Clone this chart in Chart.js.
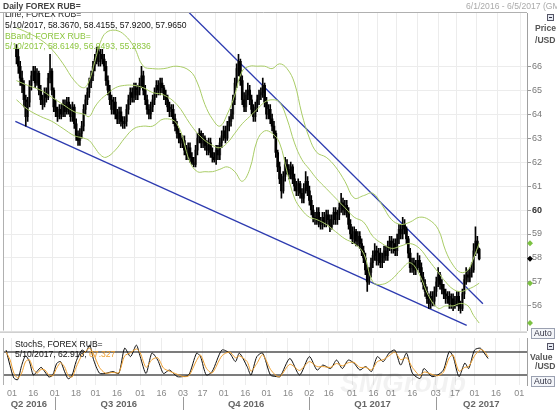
<!DOCTYPE html>
<html>
<head>
<meta charset="utf-8">
<script src="https://cdn.jsdelivr.net/npm/chart.js@4.4.0/dist/chart.umd.min.js"></script>
<style>
  body { margin: 0; width: 557px; height: 410px; overflow: hidden; position: relative; background: #fff;
         font-family: "Liberation Sans", Arial, sans-serif; }
  canvas { position: absolute; left: 0; }
  #main { top: 0; }
  #stoch { top: 336px; }
  .t { position: absolute; white-space: nowrap; font-size: 8.6px; line-height: 10px; }
  .b { font-weight: bold; }
  .auto { position: absolute; font-size: 8.6px; line-height: 9px; color: #334; border: 1px solid #9aa0b0;
          background: #f3f5f9; padding: 0 2px; }
  .btn { position: absolute; width: 5px; height: 5px; border: 1px solid #556; background: #e8ecf4; }
  .btn:after { content: ""; position: absolute; left: 1px; top: 2px; width: 3px; height: 1px; background: #334; }
</style>
</head>
<body>
<canvas id="main" width="557" height="337"></canvas>
<canvas id="stoch" width="557" height="74"></canvas>

<div class="t b" style="left:3px;top:1px;font-size:8.5px;color:#444">Daily FOREX RUB=</div>
<div class="t" style="left:466px;top:1px;color:#aaa">6/1/2016 - 6/5/2017 (GMT)</div>

<div style="position:absolute;left:5px;top:13px;height:6px;width:120px;overflow:hidden">
  <div class="t" style="left:0;top:-4px;color:#222">Line, FOREX RUB=</div>
</div>
<div class="t" style="left:5px;top:20px;color:#111">5/10/2017, 58.3670, 58.4155, 57.9200, 57.9650</div>
<div class="t" style="left:5px;top:31px;color:#8cc63f">BBand, FOREX RUB=</div>
<div class="t" style="left:5px;top:41px;color:#8cc63f">5/10/2017, 58.6149, 56.9493, 55.2836</div>

<div class="btn" style="left:547px;top:14px"></div>
<div class="t b" style="left:535px;top:23px;color:#555">Price</div>
<div class="t b" style="left:535px;top:35px;color:#555">/USD</div>
<div class="auto" style="left:531px;top:328px">Auto</div>

<div class="t" style="left:15px;top:339px;color:#111">StochS, FOREX RUB=</div>
<div class="t" style="left:15px;top:349px;color:#111">5/10/2017, 62.918, <span style="color:#f0a030">67.327</span></div>
<div class="btn" style="left:547px;top:343px"></div>
<div class="t b" style="left:530px;top:352px;color:#555">Value</div>
<div class="t b" style="left:535px;top:361px;color:#555">/USD</div>
<div class="auto" style="left:531px;top:376px">Auto</div>

<div class="t" style="left:340px;top:368px;font-size:28px;line-height:30px;font-style:italic;font-weight:bold;color:rgba(0,0,0,0.05)">SMGroup</div>

<script>
// trading-day axis, day 0 = Wed 1 Jun 2016
const startDate = '2016-05-27';
const firstOpen = 66.7;

const closes = [
  66.4, 66.0, 65.5, 65.2, 64.6, 63.9, 64.5, 65.2, 65.6, 65.8,
  65.3, 65.7, 65.0, 64.6, 64.4, 64.9, 64.7, 65.5, 65.8, 65.0,
  64.3, 64.1, 63.9, 64.2, 64.0, 64.4, 64.1, 64.5, 64.2, 63.9,
  64.3, 63.6, 63.1, 62.9, 63.2, 63.5, 64.2, 64.6, 64.9, 65.3,
  65.6, 66.0, 66.3, 66.6, 66.2, 66.5, 66.3, 66.0, 65.4, 65.0,
  64.6, 64.2, 64.5, 64.0, 63.8, 64.1, 63.7, 63.6, 63.7, 64.2,
  64.6, 64.9, 64.7, 65.1, 64.8, 65.0, 65.3, 65.6, 65.0, 64.6,
  64.2, 64.0, 64.3, 64.6, 64.9, 65.2, 65.0, 65.3, 65.1, 64.8,
  64.6, 64.3, 64.1, 64.2, 63.8, 63.5, 63.2, 63.0, 62.8, 62.9,
  62.5, 62.3, 62.6, 62.2, 62.0, 61.9, 62.5, 63.0, 63.2, 62.8,
  63.0, 62.7, 62.5, 62.8, 62.4, 62.2, 62.1, 62.5, 62.3, 62.8,
  63.1, 63.3, 63.0, 63.5, 63.7, 64.0, 64.6, 65.3, 65.9, 66.2,
  65.4, 64.6, 64.3, 64.8, 65.0, 64.6, 64.2, 63.9, 64.3, 64.6,
  64.8, 64.9, 65.2, 64.5, 64.0, 64.2, 63.8, 63.5, 63.2, 62.4,
  61.8, 61.3, 60.8, 61.4, 61.9, 61.7, 61.5, 61.8, 61.3, 61.0,
  60.8, 61.1, 60.7, 60.5, 60.9, 61.2, 60.8, 60.4, 60.0, 59.7,
  59.6, 59.9, 59.5, 59.4, 59.7, 59.5, 59.8, 59.6, 59.3, 59.6,
  59.9, 59.6, 59.8, 60.1, 60.3, 60.0, 60.2, 59.9, 59.4, 59.0,
  58.8, 59.1, 58.7, 58.9, 58.6, 58.3, 58.0, 57.5, 57.0, 57.4,
  57.8, 58.1, 58.3, 57.9, 58.2, 57.8, 58.0, 58.3, 58.1, 58.5,
  58.7, 58.4, 58.6, 58.3, 58.8, 59.2, 59.0, 59.4, 59.2, 58.8,
  58.2, 57.6, 57.8, 57.5, 57.7, 57.9, 57.6, 57.2, 56.9, 56.6,
  56.3, 56.1, 56.4, 56.2, 56.6, 57.0, 57.3, 56.9, 56.7, 56.5,
  56.3, 56.4, 56.1, 56.3, 56.0, 56.2, 56.4, 56.0, 55.9, 56.5,
  57.1, 57.3, 57.2, 57.4, 57.5, 58.3, 58.7, 58.367, 57.965
];
const highs = [
  66.9, 66.7, 66.2, 65.8, 65.4, 64.8, 64.7, 65.4, 65.8, 66.0,
  66.0, 65.9, 65.8, 65.2, 64.8, 65.1, 65.1, 65.7, 66.5, 65.9,
  65.1, 64.6, 64.3, 64.4, 64.4, 64.6, 64.6, 64.7, 64.7, 64.4,
  64.5, 64.4, 63.8, 63.3, 63.4, 63.7, 64.4, 64.8, 65.1, 65.5,
  65.8, 66.2, 66.5, 66.8, 66.8, 66.7, 66.7, 66.5, 66.2, 65.6,
  65.2, 64.8, 64.7, 64.7, 64.2, 64.3, 64.3, 63.9, 63.9, 64.4,
  64.8, 65.1, 65.1, 65.3, 65.3, 65.2, 65.5, 66.0, 65.8, 65.2,
  64.8, 64.4, 64.5, 64.8, 65.1, 65.4, 65.4, 65.5, 65.5, 65.2,
  65.0, 64.8, 64.5, 64.4, 64.4, 64.0, 63.7, 63.4, 63.2, 63.1,
  63.1, 62.7, 62.8, 62.8, 62.4, 62.2, 62.7, 63.2, 63.4, 63.3,
  63.2, 63.1, 62.9, 63.0, 63.0, 62.6, 62.4, 62.7, 62.7, 63.0,
  63.3, 63.5, 63.5, 63.7, 63.9, 64.2, 64.8, 65.5, 66.1, 66.5,
  66.3, 65.6, 64.9, 65.0, 65.3, 65.2, 64.8, 64.4, 64.5, 64.8,
  65.0, 65.1, 65.5, 65.3, 64.7, 64.4, 64.4, 64.0, 63.7, 63.3,
  62.5, 62.0, 61.5, 61.6, 62.2, 62.1, 61.9, 62.0, 61.9, 61.5,
  61.2, 61.3, 61.2, 60.9, 61.1, 61.6, 61.4, 61.0, 60.6, 60.2,
  59.9, 60.1, 60.1, 59.7, 59.9, 59.9, 60.0, 60.0, 59.8, 59.8,
  60.1, 60.1, 60.0, 60.3, 60.7, 60.5, 60.4, 60.4, 60.1, 59.6,
  59.3, 59.3, 59.2, 59.1, 59.1, 58.8, 58.5, 58.2, 57.7, 57.6,
  58.0, 58.3, 58.6, 58.5, 58.4, 58.4, 58.2, 58.5, 58.5, 58.7,
  58.9, 58.9, 58.8, 58.8, 59.0, 59.4, 59.4, 59.7, 59.6, 59.3,
  58.9, 58.4, 58.0, 58.0, 57.9, 58.2, 58.1, 57.8, 57.4, 57.1,
  56.8, 56.5, 56.6, 56.6, 56.8, 57.2, 57.6, 57.4, 57.1, 56.9,
  56.7, 56.6, 56.6, 56.5, 56.5, 56.4, 56.6, 56.6, 56.2, 56.7,
  57.3, 57.6, 57.5, 57.6, 57.8, 58.6, 59.3, 58.9, 58.4155
];
const lows = [
  66.1, 65.7, 65.2, 64.9, 64.3, 63.5, 63.7, 64.3, 65.0, 65.4,
  65.1, 65.2, 64.8, 64.4, 64.2, 64.3, 64.5, 64.6, 65.3, 64.8,
  64.1, 63.9, 63.7, 63.8, 63.8, 63.9, 63.9, 64.0, 64.0, 63.7,
  63.7, 63.4, 62.9, 62.7, 62.7, 63.0, 63.3, 64.0, 64.4, 64.7,
  65.1, 65.4, 65.8, 66.1, 66.0, 66.0, 66.1, 65.8, 65.2, 64.8,
  64.4, 64.0, 64.0, 63.8, 63.6, 63.6, 63.5, 63.4, 63.4, 63.5,
  64.0, 64.4, 64.5, 64.5, 64.6, 64.6, 64.8, 65.1, 64.8, 64.4,
  64.0, 63.8, 63.8, 64.1, 64.4, 64.7, 64.8, 64.8, 64.9, 64.6,
  64.4, 64.1, 63.9, 63.9, 63.6, 63.3, 63.0, 62.8, 62.6, 62.6,
  62.3, 62.1, 62.1, 62.0, 61.9, 61.8, 61.8, 62.3, 62.8, 62.6,
  62.6, 62.5, 62.3, 62.3, 62.2, 62.0, 62.0, 61.9, 62.1, 62.1,
  62.6, 62.9, 62.8, 62.9, 63.3, 63.5, 63.8, 64.4, 65.1, 65.6,
  65.2, 64.4, 64.1, 64.1, 64.6, 64.4, 64.0, 63.7, 63.7, 64.1,
  64.4, 64.6, 64.7, 64.3, 63.8, 63.8, 63.6, 63.3, 63.0, 62.2,
  61.6, 61.1, 60.5, 60.7, 61.2, 61.5, 61.3, 61.3, 61.1, 60.8,
  60.6, 60.6, 60.5, 60.3, 60.3, 60.7, 60.6, 60.2, 59.8, 59.5,
  59.4, 59.4, 59.3, 59.2, 59.2, 59.3, 59.3, 59.4, 59.1, 59.2,
  59.4, 59.4, 59.4, 59.6, 59.9, 59.8, 59.8, 59.7, 59.2, 58.8,
  58.6, 58.6, 58.5, 58.5, 58.4, 58.1, 57.8, 57.3, 56.6, 56.9,
  57.2, 57.6, 57.9, 57.7, 57.7, 57.6, 57.6, 57.8, 57.9, 57.9,
  58.3, 58.2, 58.2, 58.1, 58.1, 58.6, 58.8, 58.8, 59.0, 58.6,
  58.0, 57.4, 57.4, 57.3, 57.3, 57.5, 57.4, 57.0, 56.7, 56.4,
  56.1, 55.9, 55.9, 56.0, 56.0, 56.4, 56.8, 56.7, 56.5, 56.3,
  56.1, 56.1, 55.9, 55.9, 55.8, 55.9, 56.0, 55.8, 55.7, 55.8,
  56.3, 56.9, 57.0, 57.0, 57.2, 57.4, 58.1, 58.2, 57.92
];

// Bollinger bands (trading-day index anchors)
const bbDays  = [-3, 3, 10, 16, 22, 28, 33, 36, 39, 42, 45, 50, 55, 60, 65, 70, 76, 83, 90, 94, 98, 102, 106, 110, 114, 118, 122, 126, 130, 134, 138, 142, 146, 150, 154, 158, 163, 168, 173, 178, 183, 188, 193, 198, 203, 208, 213, 218, 223, 227, 231, 235, 239, 242, 245];
const bbUpper = [67.6, 67.4, 67.1, 66.7, 66.1, 65.4, 65.1, 65.4, 66.2, 67.0, 67.4, 67.5, 67.3, 66.8, 66.0, 65.9, 65.9, 66.0, 65.8, 65.3, 64.4, 63.8, 63.5, 64.0, 64.8, 65.8, 66.0, 66.0, 66.0, 65.9, 66.1, 65.9, 65.3, 64.0, 63.0, 62.4, 62.2, 61.8, 61.2, 60.5, 60.6, 60.7, 60.2, 59.6, 59.4, 59.5, 59.7, 59.6, 59.2, 58.3, 57.7, 57.4, 57.5, 58.0, 58.6149];
const bbMid   = [65.4, 65.2, 65.0, 64.7, 64.4, 64.1, 64.0, 63.9, 64.3, 64.6, 64.8, 65.1, 65.2, 65.2, 65.1, 64.9, 64.8, 64.4, 63.6, 63.2, 62.9, 62.7, 62.6, 62.8, 63.2, 63.6, 63.9, 64.2, 64.5, 64.6, 64.5, 63.8, 62.8, 62.1, 61.7, 61.3, 60.9, 60.5, 60.1, 59.7, 59.5, 58.9, 58.6, 58.4, 58.5, 58.6, 58.4, 57.9, 57.4, 57.0, 56.7, 56.6, 56.7, 56.8, 56.9493];
const bbLower = [64.6, 64.2, 63.9, 63.7, 63.4, 63.1, 63.0, 62.9, 62.6, 62.3, 62.2, 62.5, 63.0, 63.4, 63.5, 63.5, 63.8, 63.6, 62.0, 61.6, 61.6, 61.6, 61.7, 61.8, 61.6, 61.2, 61.7, 62.9, 63.3, 63.2, 62.8, 61.6, 60.5, 60.0, 59.7, 59.6, 59.4, 59.1, 58.8, 58.6, 58.2, 57.0, 56.9, 57.1, 57.5, 57.8, 57.3, 56.4, 55.9, 56.0, 56.0, 56.1, 56.0, 55.6, 55.2836];

// trend lines: [day, price] end points
const trendLow  = [[-3.6, 63.70], [238.3, 55.19]];
const trendHigh = [[89.6, 68.23], [247.0, 56.09]];

// slow stochastic
const stDays = [-3, -1, 1, 3, 5, 7, 9, 11, 13, 15, 17, 19, 21, 23, 25, 27, 29, 31, 33, 36, 38, 40, 42, 45, 48, 52, 55, 58, 61, 64, 66, 69, 72, 75, 78, 81, 85, 88, 91, 95, 97, 100, 103, 108, 112, 115, 117, 121, 123, 126, 129, 133, 136, 138, 143, 148, 153, 157, 160, 164, 167, 170, 173, 176, 179, 182, 185, 188, 191, 194, 197, 200, 203, 206, 210, 212, 216, 219, 222, 225, 227, 230, 233, 235, 238, 241, 243, 245];
const stK = [85, 45, 12, 8, 45, 70, 55, 20, 30, 40, 28, 15, 20, 50, 55, 30, 10, 20, 55, 85, 80, 98, 60, 25, 24, 29, 24, 90, 68, 98, 68, 24, 77, 59, 24, 33, 16, 16, 20, 77, 68, 20, 29, 85, 77, 55, 77, 42, 20, 68, 77, 20, 16, 16, 63, 20, 68, 33, 46, 37, 59, 37, 59, 51, 33, 42, 29, 68, 55, 77, 85, 46, 77, 25, 11, 37, 16, 20, 33, 81, 68, 16, 51, 37, 85, 90, 77, 62.918];
const stD = [80, 60, 25, 12, 25, 55, 60, 35, 25, 35, 33, 20, 18, 38, 52, 42, 18, 15, 40, 72, 82, 90, 75, 40, 25, 27, 26, 70, 78, 88, 78, 40, 60, 65, 38, 30, 22, 16, 18, 58, 72, 38, 25, 70, 80, 65, 70, 55, 30, 50, 73, 35, 18, 16, 48, 32, 55, 42, 42, 40, 50, 44, 52, 53, 40, 40, 33, 55, 60, 70, 80, 60, 65, 40, 18, 28, 22, 18, 27, 65, 72, 30, 40, 42, 70, 86, 82, 67.327];
const stLevels = [20, 80];

const priceTicks = [56, 57, 58, 59, 60, 61, 62, 63, 64, 65, 66];
const tickDates = ['2016-06-01', '2016-06-16', '2016-07-01', '2016-07-18', '2016-08-01', '2016-08-16', '2016-09-01', '2016-09-16',
  '2016-10-03', '2016-10-17', '2016-11-01', '2016-11-16', '2016-12-01', '2016-12-16', '2017-01-02', '2017-01-16',
  '2017-02-01', '2017-02-16', '2017-03-01', '2017-03-16', '2017-04-03', '2017-04-17', '2017-05-01', '2017-05-16', '2017-06-01'];
const tickLabels = ['01', '16', '01', '18', '01', '16', '01', '16', '03', '17', '01', '16', '01', '16', '02', '16',
  '01', '16', '01', '16', '03', '17', '01', '16', '01'];
const quarterStarts = ['2016-07-01', '2016-10-03', '2017-01-02', '2017-04-03'];
const quarterLabels = ['Q2 2016', 'Q3 2016', 'Q4 2016', 'Q1 2017', 'Q2 2017'];
const lastMarks = { bands: [58.6149, 56.9493, 55.2836], close: 57.965 };

// weekdays since 1 Jun 2016
const weekdayCount = s => {
  const [y, m, d] = s.split('-').map(Number);
  const days = Math.round((Date.UTC(y, m - 1, d) - Date.UTC(2016, 0, 4)) / 86400000);
  const w = Math.floor(days / 7);
  return w * 5 + Math.min(days - w * 7, 5);
};
const tIdx = s => weekdayCount(s) - weekdayCount('2016-06-01');

const X_MIN = -4.6, X_MAX = 265;
const first = tIdx(startDate);
const xTicks = tickDates.map(tIdx);
const qStarts = quarterStarts.map(tIdx);
const font = { family: 'Liberation Sans', size: 9 };

const wicks = [], bodies = [], bodyColors = [];
closes.forEach((c, i) => {
  const o = i ? closes[i - 1] : firstOpen;
  wicks.push({ x: first + i, y: [lows[i], highs[i]] });
  bodies.push({ x: first + i, y: [o, c] });
  bodyColors.push(c >= o ? '#7a7a7a' : '#000');
});
const band = arr => bbDays.map((d, i) => ({ x: d, y: arr[i] }));
const pts = arr => arr.map(p => ({ x: p[0], y: p[1] }));

const xAxis = (showLabels) => ({
  type: 'linear', min: X_MIN, max: X_MAX,
  afterBuildTicks: s => { s.ticks = xTicks.map(v => ({ value: v })); },
  grid: { color: '#ececec', drawTicks: false },
  border: { display: false },
  ticks: {
    display: showLabels, autoSkip: false, maxRotation: 0, padding: 3, color: '#888', font,
    callback: v => tickLabels[xTicks.indexOf(v)]
  },
  afterFit: s => { s.height = showLabels ? 25 : 0; }
});

const frame = {
  id: 'frame',
  afterDraw(chart) {
    const { ctx, chartArea: a } = chart;
    ctx.save();
    ctx.strokeStyle = '#b0b0b0';
    ctx.lineWidth = 1;
    ctx.beginPath();
    ctx.moveTo(a.left + 0.5, a.top);
    ctx.lineTo(a.left + 0.5, a.bottom);
    if (chart.canvas.id === 'main') {
      ctx.moveTo(0, a.top - 0.5);
      ctx.lineTo(a.right, a.top - 0.5);
      ctx.moveTo(0, a.bottom + 1.5);
      ctx.lineTo(a.right, a.bottom + 1.5);
    }
    ctx.stroke();
    ctx.restore();
  }
};

const markers = {
  id: 'markers',
  afterDraw(chart) {
    const { ctx, chartArea: a, scales } = chart;
    const dia = (v, col) => {
      const y = scales.y.getPixelForValue(v), x = a.right + 3;
      ctx.fillStyle = col;
      ctx.beginPath();
      ctx.moveTo(x, y - 3); ctx.lineTo(x + 3, y); ctx.lineTo(x, y + 3); ctx.lineTo(x - 3, y);
      ctx.closePath(); ctx.fill();
    };
    ctx.save();
    lastMarks.bands.forEach(v => dia(v, '#7cc242'));
    dia(lastMarks.close, '#000');
    ctx.restore();
  }
};

new Chart(document.getElementById('main'), {
  type: 'bar',
  data: {
    datasets: [
      { type: 'line', data: band(bbUpper), borderColor: '#a9cc66', borderWidth: 1, pointRadius: 0, tension: 0.4 },
      { type: 'line', data: band(bbMid), borderColor: '#a9cc66', borderWidth: 1, pointRadius: 0, tension: 0.4 },
      { type: 'line', data: band(bbLower), borderColor: '#a9cc66', borderWidth: 1, pointRadius: 0, tension: 0.4 },
      { data: wicks, backgroundColor: '#000', barThickness: 1, grouped: false },
      { data: bodies, backgroundColor: bodyColors, barThickness: 2, grouped: false },
      { type: 'line', data: pts(trendLow), borderColor: '#2d3bb0', borderWidth: 1.3, pointRadius: 0 },
      { type: 'line', data: pts(trendHigh), borderColor: '#2d3bb0', borderWidth: 1.3, pointRadius: 0 }
    ]
  },
  options: {
    animation: false, responsive: false, devicePixelRatio: 1,
    layout: { padding: { left: 3, top: 13, right: 0, bottom: 2 } },
    plugins: { legend: { display: false }, tooltip: { enabled: false } },
    scales: {
      x: xAxis(false),
      y: {
        position: 'right', min: 54.97, max: 68.22,
        afterBuildTicks: s => { s.ticks = priceTicks.map(v => ({ value: v })); },
        afterFit: s => { s.width = 30; },
        grid: { color: '#ececec', tickLength: 4, tickColor: '#999' },
        border: { color: '#a0a0a0' },
        ticks: {
          padding: 1, color: c => c.tick && c.tick.value === 60 ? '#333' : '#777',
          font: c => ({ family: 'Liberation Sans', size: 9, weight: c.tick && c.tick.value === 60 ? 'bold' : 'normal' })
        }
      }
    }
  },
  plugins: [frame, markers]
});

const levels = {
  id: 'levels',
  beforeDatasetsDraw(chart) {
    const { ctx, chartArea: a, scales } = chart;
    ctx.save();
    ctx.strokeStyle = '#505050';
    ctx.lineWidth = 1.5;
    stLevels.forEach(v => {
      const y = scales.y.getPixelForValue(v);
      ctx.beginPath(); ctx.moveTo(a.left, y); ctx.lineTo(a.right, y); ctx.stroke();
    });
    ctx.restore();
  }
};

const quarters = {
  id: 'quarters',
  afterDraw(chart) {
    const { ctx, scales } = chart;
    const x = scales.x;
    const edges = [X_MIN, ...qStarts, X_MAX];
    ctx.save();
    ctx.fillStyle = '#666';
    ctx.font = 'bold 9.5px "Liberation Sans"';
    ctx.textAlign = 'center';
    ctx.textBaseline = 'middle';
    quarterLabels.forEach((q, i) => {
      const cx = (x.getPixelForValue(edges[i]) + x.getPixelForValue(edges[i + 1])) / 2;
      ctx.fillText(q, cx, 68);
    });
    ctx.strokeStyle = '#999';
    ctx.lineWidth = 1;
    qStarts.forEach(d => {
      const px = Math.round(x.getPixelForValue(d)) + 0.5;
      ctx.beginPath(); ctx.moveTo(px, 61); ctx.lineTo(px, 74); ctx.stroke();
    });
    ctx.restore();
  }
};

new Chart(document.getElementById('stoch'), {
  type: 'line',
  data: {
    datasets: [
      { data: stDays.map((d, i) => ({ x: d, y: stD[i] })), borderColor: '#f0a030', borderWidth: 1, pointRadius: 0, tension: 0.25 },
      { data: stDays.map((d, i) => ({ x: d, y: stK[i] })), borderColor: '#111', borderWidth: 1, pointRadius: 0, tension: 0.25 }
    ]
  },
  options: {
    animation: false, responsive: false, devicePixelRatio: 1,
    layout: { padding: { left: 3, top: 2, right: 0, bottom: 0 } },
    plugins: { legend: { display: false }, tooltip: { enabled: false } },
    scales: {
      x: xAxis(true),
      y: {
        position: 'right', min: -6, max: 116.5,
        afterFit: s => { s.width = 30; },
        grid: { display: false },
        border: { color: '#a0a0a0' },
        ticks: { display: false }
      }
    }
  },
  plugins: [levels, quarters, frame]
});
</script>
</body>
</html>
